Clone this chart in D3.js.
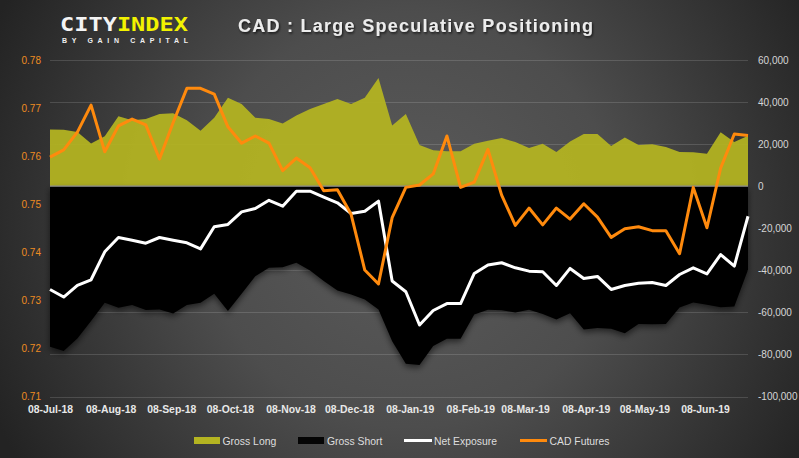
<!DOCTYPE html>
<html><head><meta charset="utf-8">
<script src="https://cdn.jsdelivr.net/npm/d3@7"></script>
<style>
html,body{margin:0;padding:0;background:#333;}
svg{display:block;}
</style></head>
<body>
<svg id="chart" width="799" height="458"></svg>
<script>
// ---------- DATA ----------
const dates = ["2018-07-08","2018-07-15","2018-07-22","2018-07-29","2018-08-05","2018-08-12","2018-08-19","2018-08-26",
"2018-09-02","2018-09-09","2018-09-16","2018-09-23","2018-09-30","2018-10-07","2018-10-14","2018-10-21","2018-10-28",
"2018-11-04","2018-11-11","2018-11-18","2018-11-25","2018-12-02","2018-12-09","2018-12-16","2018-12-23","2018-12-30",
"2019-01-06","2019-01-13","2019-01-20","2019-01-27","2019-02-03","2019-02-10","2019-02-17","2019-02-24","2019-03-03",
"2019-03-10","2019-03-17","2019-03-24","2019-03-31","2019-04-07","2019-04-14","2019-04-21","2019-04-28","2019-05-05",
"2019-05-12","2019-05-19","2019-05-26","2019-06-02","2019-06-09","2019-06-16","2019-06-23","2019-06-30"];

const grossLong = [27000,26800,25800,20300,23800,33200,31400,32000,34300,34700,31400,26400,32500,42000,39100,32500,32000,
29800,33600,36700,39100,41500,39100,42000,51500,28800,34300,19600,17100,16600,16600,20200,21600,22900,21000,18200,20200,
16200,21200,24800,24800,19100,23200,19600,19900,18600,16200,16100,15400,25600,21000,24000];

const grossShort = [-76300,-78400,-72400,-64100,-55400,-57800,-56500,-58900,-58600,-60500,-56500,-55400,-51200,-59400,-51200,
-42800,-38800,-38500,-36400,-40100,-45100,-49600,-51500,-53900,-58600,-73700,-84400,-85000,-76000,-72500,-72500,-61000,
-58700,-59000,-60100,-58700,-60800,-63400,-60400,-68200,-67400,-67800,-69900,-65500,-65700,-65500,-57700,-55300,-56400,
-57600,-57200,-39700];

const netExposure = [-49100,-52700,-47200,-44500,-31200,-24400,-25700,-27100,-24400,-25700,-26900,-29800,-19300,-18200,-12200,
-10600,-6700,-9500,-2400,-2400,-5200,-7900,-13000,-11900,-7100,-45100,-50200,-66000,-59100,-55800,-55800,-41500,-37500,
-36400,-38800,-40400,-40700,-47200,-39100,-43900,-42900,-49100,-47200,-46200,-45800,-47200,-42000,-38800,-41700,-32500,
-38000,-14300];

const cadFutures = [0.7598,0.7613,0.7650,0.7706,0.7609,0.7663,0.7677,0.7665,0.7594,0.7670,0.7741,0.7741,0.7729,0.7661,0.7627,
0.7642,0.7627,0.7570,0.7596,0.7576,0.7528,0.7530,0.7479,0.7363,0.7334,0.7472,0.7535,0.7540,0.7563,0.7642,0.7535,0.7546,
0.7614,0.7519,0.7456,0.7492,0.7457,0.7492,0.7469,0.7501,0.7473,0.7431,0.7449,0.7453,0.7445,0.7445,0.7397,0.7535,0.7451,
0.7575,0.7646,0.7643];

const xTickDates = ["2018-07-08","2018-08-08","2018-09-08","2018-10-08","2018-11-08","2018-12-08","2019-01-08",
"2019-02-08","2019-03-08","2019-04-08","2019-05-08","2019-06-08"];
const leftTicks = [0.71,0.72,0.73,0.74,0.75,0.76,0.77,0.78];
const rightTicks = [-100000,-80000,-60000,-40000,-20000,0,20000,40000,60000];
const seriesNames = ["Gross Long","Gross Short","Net Exposure","CAD Futures"];
const titleText = "CAD : Large Speculative Positioning";

// ---------- SETUP ----------
const W = 799, H = 458;
const svg = d3.select("#chart");
const parse = d3.timeParse("%Y-%m-%d");
const dts = dates.map(parse);
const rows = dts.map((d,i)=>({date:d, long:grossLong[i], short:grossShort[i], net:netExposure[i], cad:cadFutures[i]}));

const pLeft = 50, pRight = 748, pTop = 60, pBottom = 396.5;
const x = d3.scaleTime().domain([dts[0], dts[dts.length-1]]).range([pLeft, pRight]);
const yR = d3.scaleLinear().domain([-100000, 60000]).range([pBottom, pTop]);
const yL = d3.scaleLinear().domain([0.71, 0.78]).range([pBottom, pTop]);

const loc = d3.formatLocale({decimal:".", thousands:",", grouping:[3], currency:["$",""], minus:"-"});
const fmtR = loc.format(",");
const fmtL = loc.format(".2f");
const fmtX = d3.timeFormat("%d-%b-%y");

const defs = svg.append("defs");
const bg = defs.append("radialGradient").attr("id","bg").attr("gradientUnits","userSpaceOnUse")
  .attr("cx",410).attr("cy",220).attr("r",460);
bg.append("stop").attr("offset","0%").attr("stop-color","#5b5b5b");
bg.append("stop").attr("offset","45%").attr("stop-color","#4d4d4d");
bg.append("stop").attr("offset","100%").attr("stop-color","#232323");

const sh = defs.append("filter").attr("id","shadow").attr("x","-10%").attr("y","-10%").attr("width","120%").attr("height","130%");
sh.append("feDropShadow").attr("dx",0).attr("dy",3).attr("stdDeviation",3).attr("flood-color","#000").attr("flood-opacity",0.55);
const tsh = defs.append("filter").attr("id","tshadow").attr("x","-5%").attr("y","-30%").attr("width","110%").attr("height","160%");
tsh.append("feDropShadow").attr("dx",1).attr("dy",1.5).attr("stdDeviation",1.2).attr("flood-color","#000").attr("flood-opacity",0.7);

svg.append("rect").attr("width",W).attr("height",H).attr("fill","url(#bg)");

// gridlines
svg.append("g").selectAll("line").data(rightTicks).join("line")
  .attr("x1",pLeft).attr("x2",pRight)
  .attr("y1",d=>Math.round(yR(d))+0.5).attr("y2",d=>Math.round(yR(d))+0.5)
  .attr("stroke","#ffffff").attr("stroke-opacity",0.14).attr("stroke-width",1);

// areas
const areaLong = d3.area().x(d=>x(d.date)).y0(yR(0)).y1(d=>yR(d.long));
const areaShort = d3.area().x(d=>x(d.date)).y0(yR(0)).y1(d=>yR(d.short));
svg.append("path").datum(rows).attr("d",areaLong).attr("fill","#b4b421").attr("fill-opacity",0.94);
svg.append("path").datum(rows).attr("d",areaShort).attr("fill","#050505").attr("filter","url(#shadow)");

// zero line
svg.append("line").attr("x1",pLeft).attr("x2",pRight)
  .attr("y1",yR(0)).attr("y2",yR(0)).attr("stroke","#8f8f8f").attr("stroke-width",1.2);

// lines
const lineNet = d3.line().x(d=>x(d.date)).y(d=>yR(d.net));
const lineCad = d3.line().x(d=>x(d.date)).y(d=>yL(d.cad));
svg.append("path").datum(rows).attr("d",lineNet).attr("fill","none").attr("stroke","#ffffff")
  .attr("stroke-width",3).attr("stroke-linejoin","round");
svg.append("path").datum(rows).attr("d",lineCad).attr("fill","none").attr("stroke","#ff8a0d")
  .attr("stroke-width",3).attr("stroke-linejoin","round");

// axes
const axL = svg.append("g").attr("transform",`translate(${pLeft-9},0)`)
  .call(d3.axisLeft(yL).tickValues(leftTicks).tickFormat(fmtL).tickSize(0).tickPadding(0));
axL.select(".domain").remove();
axL.selectAll("text").attr("fill","#ee8c22").attr("font-family","Liberation Sans, Arial, sans-serif").attr("font-size","10px");

const axR = svg.append("g").attr("transform",`translate(${pRight+10},0)`)
  .call(d3.axisRight(yR).tickValues(rightTicks).tickFormat(fmtR).tickSize(0).tickPadding(0));
axR.select(".domain").remove();
axR.selectAll("text").attr("fill","#d6d6d6").attr("font-family","Liberation Sans, Arial, sans-serif").attr("font-size","10px");

const axX = svg.append("g").attr("transform",`translate(0,${pBottom+4})`)
  .call(d3.axisBottom(x).tickValues(xTickDates.map(parse)).tickFormat(fmtX).tickSize(0).tickPadding(5));
axX.select(".domain").remove();
axX.selectAll("text").attr("fill","#e8e8e8").attr("font-family","Liberation Sans, Arial, sans-serif")
  .attr("font-size","10.4px").attr("font-weight","bold");

// title
svg.append("text").attr("x",238).attr("y",31.5).attr("textLength",355).attr("lengthAdjust","spacing")
  .attr("font-family","Liberation Sans, Arial, sans-serif").attr("font-weight","bold").attr("font-size","18px")
  .attr("fill","#ececec").attr("filter","url(#tshadow)").text(titleText);

// logo
const logo = svg.append("text").attr("x",60).attr("y",31).attr("textLength",128).attr("lengthAdjust","spacingAndGlyphs")
  .attr("font-family","DejaVu Sans Mono, monospace").attr("font-size","19px").attr("font-weight","bold");
logo.append("tspan").attr("fill","#f4f4f4").text("CITY");
logo.append("tspan").attr("fill","#f2f200").text("INDEX");
svg.append("text").attr("x",62).attr("y",42.7).attr("textLength",126).attr("lengthAdjust","spacing")
  .attr("font-family","Liberation Sans, Arial, sans-serif").attr("font-size","7px").attr("font-weight","bold")
  .attr("fill","#f0f0f0").text("BY GAIN CAPITAL");

// legend
const lg = svg.append("g").attr("font-family","Liberation Sans, Arial, sans-serif").attr("font-size","10.4px").attr("fill","#dedede");
const lgX = [194, 298, 404, 520];
lg.append("rect").attr("x",lgX[0]).attr("y",437).attr("width",26).attr("height",7).attr("fill","#b4b421");
lg.append("rect").attr("x",lgX[1]).attr("y",437).attr("width",26).attr("height",7).attr("fill","#050505");
lg.append("line").attr("x1",lgX[2]).attr("x2",lgX[2]+28).attr("y1",440.5).attr("y2",440.5).attr("stroke","#fff").attr("stroke-width",3);
lg.append("line").attr("x1",lgX[3]).attr("x2",lgX[3]+27).attr("y1",440.5).attr("y2",440.5).attr("stroke","#ff8a0d").attr("stroke-width",3);
const txX = [222.5, 327, 434, 549.5];
seriesNames.forEach((n,i)=>{
  lg.append("text").attr("x",txX[i]).attr("y",444.5).text(n);
});
</script>
</body></html>
